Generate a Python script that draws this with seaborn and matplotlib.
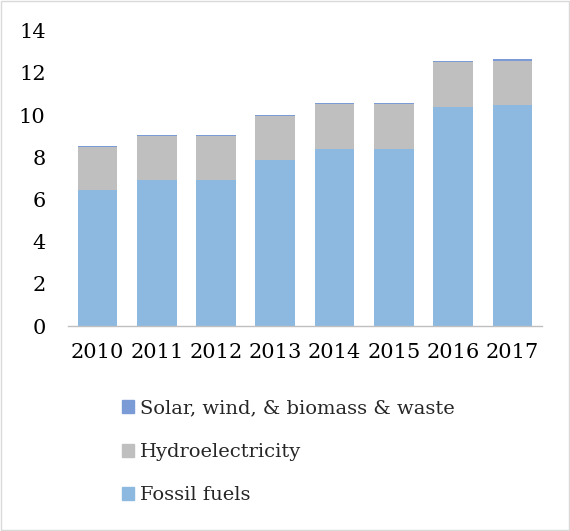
import pandas as pd
import matplotlib.pyplot as plt
import matplotlib.patches as mpatches
import seaborn as sns

# Electricity generation by source (stacked)
years = ['2010', '2011', '2012', '2013', '2014', '2015', '2016', '2017']
fossil = [6.45, 6.93, 6.93, 7.86, 8.40, 8.40, 10.38, 10.49]
hydro = [2.06, 2.10, 2.10, 2.11, 2.15, 2.15, 2.12, 2.10]
solar = [0.05, 0.05, 0.05, 0.04, 0.04, 0.04, 0.05, 0.05]

df = pd.DataFrame({'Year': years, 'Fossil': fossil, 'Hydro': hydro, 'Solar': solar})
df['FossilHydro'] = df['Fossil'] + df['Hydro']
df['Total'] = df['FossilHydro'] + df['Solar']

c_fossil = '#8DB9E0'
c_hydro = '#BFBFBF'
c_solar = '#7A9BD6'

sns.set_style('white')
plt.rcParams['font.family'] = ['DejaVu Serif']

fig = plt.figure(figsize=(5.7, 5.31), dpi=100)
ax = fig.add_axes([0.119, 0.386, 0.832, 0.556])

# stacked look: draw cumulative totals from the top down
for col, c in [('Total', c_solar), ('FossilHydro', c_hydro), ('Fossil', c_fossil)]:
    sns.barplot(data=df, x='Year', y=col, color=c, width=0.67, ax=ax,
                saturation=1, linewidth=0, edgecolor='none')

ax.set_ylim(0, 14)
ax.set_yticks(range(0, 15, 2))
ax.set_xlim(-0.5, 7.5)
ax.set_xlabel('')
ax.set_ylabel('')
ax.tick_params(axis='both', labelsize=15, length=0, colors='black')
ax.tick_params(axis='x', pad=12)
ax.tick_params(axis='y', pad=16)
for s in ['top', 'right', 'left']:
    ax.spines[s].set_visible(False)
ax.spines['bottom'].set_color('#BFBFBF')
ax.spines['bottom'].set_linewidth(1)

handles = [mpatches.Patch(color=c_solar, label='Solar, wind, & biomass & waste'),
           mpatches.Patch(color=c_hydro, label='Hydroelectricity'),
           mpatches.Patch(color=c_fossil, label='Fossil fuels')]
fig.legend(handles=handles, loc='upper left', bbox_to_anchor=(0.2, 0.262),
           frameon=False, fontsize=14, handlelength=0.65, handleheight=0.65,
           handletextpad=0.3, labelspacing=1.3, borderaxespad=0)

# light frame around the whole chart
fig.patches.append(mpatches.Rectangle((0.002, 0.002), 0.996, 0.996, transform=fig.transFigure,
                                      fill=False, edgecolor='#D9D9D9', linewidth=1))

fig.savefig('out.png', dpi=100)
